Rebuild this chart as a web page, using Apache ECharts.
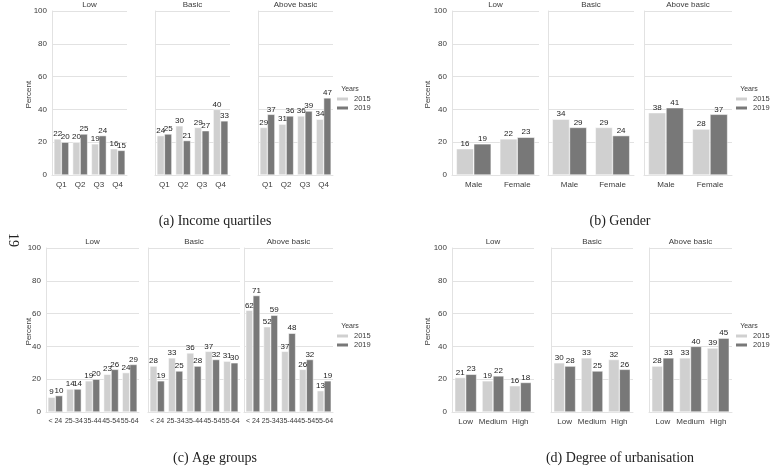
<!DOCTYPE html>
<html><head><meta charset="utf-8">
<script src="https://cdn.jsdelivr.net/npm/echarts@6/dist/echarts.min.js"></script>
<style>html,body{margin:0;padding:0;background:#fff}#c{width:770px;height:466px}</style>
</head><body><div id="c"></div>
<script>
// ---- data ----
const facets = ['Low', 'Basic', 'Above basic'];
const years = ['2015', '2019'];
const yTicks = [0, 20, 40, 60, 80, 100];
const captions = ['(a) Income quartiles', '(b) Gender', '(c) Age groups', '(d) Degree of urbanisation'];
const pageNumber = '19';

const incomeCats = ['Q1', 'Q2', 'Q3', 'Q4'];
const income2015 = [[22, 20, 19, 16], [24, 30, 29, 40], [29, 31, 36, 34]];
const income2019 = [[20, 25, 24, 15], [25, 21, 27, 33], [37, 36, 39, 47]];

const genderCats = ['Male', 'Female'];
const gender2015 = [[16, 22], [34, 29], [38, 28]];
const gender2019 = [[19, 23], [29, 24], [41, 37]];

const ageCats = ['< 24', '25-34', '35-44', '45-54', '55-64'];
const age2015 = [[9, 14, 19, 23, 24], [28, 33, 36, 37, 31], [62, 52, 37, 26, 13]];
const age2019 = [[10, 14, 20, 26, 29], [19, 25, 28, 32, 30], [71, 59, 48, 32, 19]];

const urbanCats = ['Low', 'Medium', 'High'];
const urban2015 = [[21, 19, 16], [30, 33, 32], [28, 33, 39]];
const urban2019 = [[23, 22, 18], [28, 25, 26], [33, 40, 45]];

// ---- layout / style ----
const C15 = '#d0d0d0', C19 = '#787878';
const GRID = '#e2e2e2', TXT = '#3a3a3a';
const SANS = '"Liberation Sans", Arial, sans-serif';
const SERIF = '"Liberation Serif", "DejaVu Serif", serif';

const panels = [
  {cats: incomeCats, a: income2015, b: income2019, fs: 8,
   top: 11, h: 164, xs: [[52, 75], [155, 75], [258, 75]], legX: 335, legY: 95, pctX: 29, cap: [215, 221]},
  {cats: genderCats, a: gender2015, b: gender2019, fs: 8,
   top: 11, h: 164, xs: [[452, 87], [548, 86], [644, 88]], legX: 734, legY: 95, pctX: 428, cap: [620, 221]},
  {cats: ageCats, a: age2015, b: age2019, fs: 7,
   top: 248, h: 164, xs: [[46, 93], [148, 92], [244, 89]], legX: 335, legY: 332, pctX: 29, cap: [215, 458]},
  {cats: urbanCats, a: urban2015, b: urban2019, fs: 8,
   top: 248, h: 164, xs: [[452, 82], [551, 82], [649, 83]], legX: 734, legY: 332, pctX: 428, cap: [620, 458]}
];

const grids = [], xAxes = [], yAxes = [], series = [], legends = [], graphics = [];

panels.forEach((p, pi) => {
  p.xs.forEach(([x, w], fi) => {
    const gi = grids.length;
    grids.push({left: x, top: p.top, width: w, height: p.h});
    xAxes.push({
      gridIndex: gi, type: 'category', data: p.cats,
      axisLine: {show: true, lineStyle: {color: GRID}},
      axisTick: {show: false},
      axisLabel: {interval: 0, fontSize: p.fs, color: TXT, margin: 6, fontFamily: SANS, hideOverlap: false}
    });
    yAxes.push({
      gridIndex: gi, type: 'value', min: yTicks[0], max: yTicks[yTicks.length - 1],
      interval: yTicks[1] - yTicks[0],
      axisLine: {show: true, lineStyle: {color: GRID}},
      axisTick: {show: false},
      splitLine: {lineStyle: {color: GRID, width: 1}},
      axisLabel: {show: fi === 0, fontSize: 8, color: TXT, margin: 5, fontFamily: SANS}
    });
    [[years[0], p.a[fi], C15], [years[1], p.b[fi], C19]].forEach(([name, vals, col]) => {
      series.push({
        type: 'bar', name: name, xAxisIndex: gi, yAxisIndex: gi, data: vals,
        barGap: '0%', barCategoryGap: '20%',
        itemStyle: {color: col, borderColor: '#fff', borderWidth: 0.5},
        label: {show: true, position: 'top', distance: 1, fontSize: 8, color: '#222', fontFamily: SANS},
        silent: true, animation: false
      });
    });
    graphics.push({type: 'text', x: x + w / 2, y: p.top - 6,
      style: {text: facets[fi], font: '8px ' + SANS, fill: TXT, textAlign: 'center', textVerticalAlign: 'middle'}});
  });
  legends.push({
    data: years, orient: 'vertical', left: p.legX, top: p.legY, itemWidth: 13, itemHeight: 5, itemGap: 1,
    padding: 0, icon: 'rect', textStyle: {fontSize: 7.5, color: TXT, fontFamily: SANS}, selectedMode: false
  });
  graphics.push({type: 'text', x: p.legX + 15, y: p.legY - 6,
    style: {text: 'Years', font: '7px ' + SANS, fill: TXT, textAlign: 'center', textVerticalAlign: 'middle'}});
  graphics.push({type: 'text', x: p.pctX, y: p.top + p.h * 0.51, rotation: Math.PI / 2,
    style: {text: 'Percent', font: '8px ' + SANS, fill: TXT, textAlign: 'center', textVerticalAlign: 'middle'}});
  graphics.push({type: 'text', x: p.cap[0], y: p.cap[1],
    style: {text: captions[pi], font: '14px ' + SERIF, fill: '#222', textAlign: 'center', textVerticalAlign: 'middle'}});
});
graphics.push({type: 'text', x: 13, y: 240, rotation: -Math.PI / 2,
  style: {text: pageNumber, font: '14px ' + SERIF, fill: '#222', textAlign: 'center', textVerticalAlign: 'middle'}});

const chart = echarts.init(document.getElementById('c'), null, {renderer: 'canvas'});
chart.setOption({
  animation: false, backgroundColor: '#fff',
  grid: grids, xAxis: xAxes, yAxis: yAxes, series: series, legend: legends, graphic: graphics
});
</script></body></html>
